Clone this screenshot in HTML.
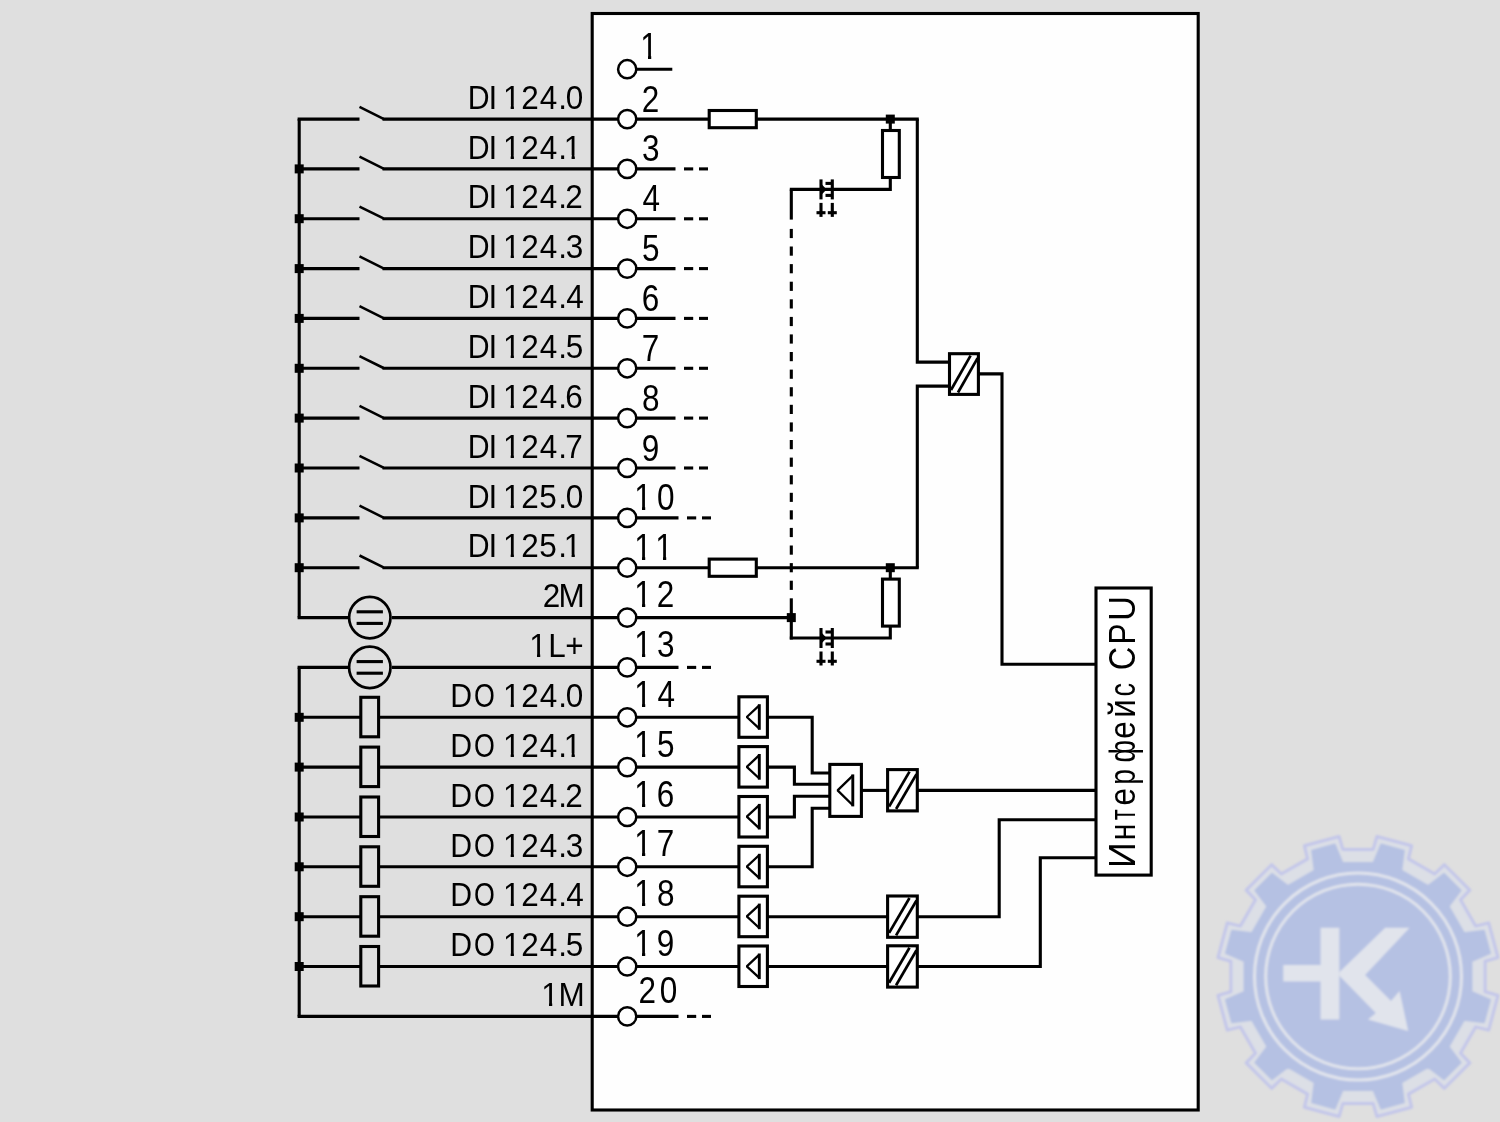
<!DOCTYPE html>
<html lang="ru"><head><meta charset="utf-8"><style>
html,body{margin:0;padding:0;background:#dfdfdf;}
svg{display:block;will-change:transform}
text{font-family:"Liberation Sans",sans-serif;fill:#000;stroke:none}
</style></head><body>
<svg width="1500" height="1122" viewBox="0 0 1500 1122">
<defs><clipPath id="c1" clipPathUnits="userSpaceOnUse"><path d="M-5,-40 H25 V-3.3 H10.95 V3 H7.7 V-3.3 H-5 Z"/></clipPath><filter id="gb" x="-5%" y="-5%" width="110%" height="110%"><feGaussianBlur stdDeviation="0.9"/></filter><filter id="lb" x="0" y="0" width="100%" height="100%" filterUnits="userSpaceOnUse"><feGaussianBlur stdDeviation="0.45"/></filter></defs>
<rect x="0" y="0" width="1500" height="1122" fill="#dfdfdf"/>
<g filter="url(#gb)"><path d="M1373.2,849.4 L1376.9,836.5 L1411.6,845.8 L1408.4,858.9 L1434.7,874.0 L1444.4,864.7 L1469.8,890.1 L1460.5,899.8 L1475.6,926.1 L1488.7,922.9 L1498.0,957.6 L1485.1,961.3 L1485.1,991.7 L1498.0,995.4 L1488.7,1030.1 L1475.6,1026.9 L1460.5,1053.2 L1469.8,1062.9 L1444.4,1088.3 L1434.7,1079.0 L1408.4,1094.1 L1411.6,1107.2 L1376.9,1116.5 L1373.2,1103.6 L1342.8,1103.6 L1339.1,1116.5 L1304.4,1107.2 L1307.6,1094.1 L1281.3,1079.0 L1271.6,1088.3 L1246.2,1062.9 L1255.5,1053.2 L1240.4,1026.9 L1227.3,1030.1 L1218.0,995.4 L1230.9,991.7 L1230.9,961.3 L1218.0,957.6 L1227.3,922.9 L1240.4,926.1 L1255.5,899.8 L1246.2,890.1 L1271.6,864.7 L1281.3,874.0 L1307.6,858.9 L1304.4,845.8 L1339.1,836.5 L1342.8,849.4Z" fill="#dcdfe6" stroke="#c3c6ea" stroke-width="3" stroke-linejoin="round"/><path d="M1373.5,863.1 L1381.3,844.5 L1403.8,850.6 L1401.3,870.5 L1428.2,886.0 L1444.1,873.9 L1460.6,890.4 L1448.5,906.3 L1464.0,933.2 L1483.9,930.7 L1490.0,953.2 L1471.4,961.0 L1471.4,992.0 L1490.0,999.8 L1483.9,1022.3 L1464.0,1019.8 L1448.5,1046.7 L1460.6,1062.6 L1444.1,1079.1 L1428.2,1067.0 L1401.3,1082.5 L1403.8,1102.4 L1381.3,1108.5 L1373.5,1089.9 L1342.5,1089.9 L1334.7,1108.5 L1312.2,1102.4 L1314.7,1082.5 L1287.8,1067.0 L1271.9,1079.1 L1255.4,1062.6 L1267.5,1046.7 L1252.0,1019.8 L1232.1,1022.3 L1226.0,999.8 L1244.6,992.0 L1244.6,961.0 L1226.0,953.2 L1232.1,930.7 L1252.0,933.2 L1267.5,906.3 L1255.4,890.4 L1271.9,873.9 L1287.8,886.0 L1314.7,870.5 L1312.2,850.6 L1334.7,844.5 L1342.5,863.1Z" fill="#b5c1e3" stroke="#b5c1e3" stroke-width="2" stroke-linejoin="round"/><circle cx="1358" cy="976.5" r="103.5" fill="none" stroke="#e1e4ec" stroke-width="3"/><circle cx="1358" cy="976.5" r="92.3" fill="none" stroke="#e1e4ec" stroke-width="3"/><path d="M1320.6,927.7 L1339.3,927.7 L1339.3,965.0 L1320.6,965.0Z M1283.3,965.0 L1339.3,965.0 L1339.3,981.4 L1283.3,981.4Z M1320.6,981.4 L1339.3,981.4 L1339.3,1019.6 L1320.6,1019.6Z" fill="#e1e4ec"/><path d="M1339.3,972.2 L1385.2,927.7 L1409.6,927.7 L1365.1,975.1 L1391.0,1000.9 L1399.6,990.9 L1408.2,1031.1 L1368.0,1019.6 L1375.8,1013.0 L1339.3,975.7Z" fill="#e1e4ec"/></g>
<g stroke="#000" stroke-width="3.1" stroke-linecap="butt" fill="none" filter="url(#lb)">
<rect x="592.2" y="13.5" width="606.0" height="1096.5" fill="#fefefe" />
<line x1="299.2" y1="119.1" x2="299.2" y2="617.6" />
<line x1="299.2" y1="667.4" x2="299.2" y2="1016.4" />
<line x1="297.6" y1="119.1" x2="359.5" y2="119.1" />
<line x1="359.5" y1="106.9" x2="383.5" y2="118.8" stroke-width="2.6"/>
<line x1="382.5" y1="119.1" x2="618.2" y2="119.1" />
<line x1="299.2" y1="168.9" x2="359.5" y2="168.9" />
<line x1="359.5" y1="156.7" x2="383.5" y2="168.6" stroke-width="2.6"/>
<line x1="382.5" y1="168.9" x2="618.2" y2="168.9" />
<rect x="294.7" y="164.4" width="9" height="9" fill="#000" stroke="none"/>
<line x1="299.2" y1="218.8" x2="359.5" y2="218.8" />
<line x1="359.5" y1="206.6" x2="383.5" y2="218.4" stroke-width="2.6"/>
<line x1="382.5" y1="218.8" x2="618.2" y2="218.8" />
<rect x="294.7" y="214.2" width="9" height="9" fill="#000" stroke="none"/>
<line x1="299.2" y1="268.6" x2="359.5" y2="268.6" />
<line x1="359.5" y1="256.4" x2="383.5" y2="268.3" stroke-width="2.6"/>
<line x1="382.5" y1="268.6" x2="618.2" y2="268.6" />
<rect x="294.7" y="264.1" width="9" height="9" fill="#000" stroke="none"/>
<line x1="299.2" y1="318.4" x2="359.5" y2="318.4" />
<line x1="359.5" y1="306.2" x2="383.5" y2="318.1" stroke-width="2.6"/>
<line x1="382.5" y1="318.4" x2="618.2" y2="318.4" />
<rect x="294.7" y="313.9" width="9" height="9" fill="#000" stroke="none"/>
<line x1="299.2" y1="368.3" x2="359.5" y2="368.3" />
<line x1="359.5" y1="356.1" x2="383.5" y2="368.0" stroke-width="2.6"/>
<line x1="382.5" y1="368.3" x2="618.2" y2="368.3" />
<rect x="294.7" y="363.8" width="9" height="9" fill="#000" stroke="none"/>
<line x1="299.2" y1="418.1" x2="359.5" y2="418.1" />
<line x1="359.5" y1="405.9" x2="383.5" y2="417.8" stroke-width="2.6"/>
<line x1="382.5" y1="418.1" x2="618.2" y2="418.1" />
<rect x="294.7" y="413.6" width="9" height="9" fill="#000" stroke="none"/>
<line x1="299.2" y1="468.0" x2="359.5" y2="468.0" />
<line x1="359.5" y1="455.8" x2="383.5" y2="467.7" stroke-width="2.6"/>
<line x1="382.5" y1="468.0" x2="618.2" y2="468.0" />
<rect x="294.7" y="463.5" width="9" height="9" fill="#000" stroke="none"/>
<line x1="299.2" y1="517.9" x2="359.5" y2="517.9" />
<line x1="359.5" y1="505.7" x2="383.5" y2="517.6" stroke-width="2.6"/>
<line x1="382.5" y1="517.9" x2="618.2" y2="517.9" />
<rect x="294.7" y="513.4" width="9" height="9" fill="#000" stroke="none"/>
<line x1="299.2" y1="567.7" x2="359.5" y2="567.7" />
<line x1="359.5" y1="555.5" x2="383.5" y2="567.4" stroke-width="2.6"/>
<line x1="382.5" y1="567.7" x2="618.2" y2="567.7" />
<rect x="294.7" y="563.2" width="9" height="9" fill="#000" stroke="none"/>
<line x1="297.6" y1="617.6" x2="348.0" y2="617.6" />
<line x1="392.0" y1="617.6" x2="618.2" y2="617.6" />
<line x1="297.6" y1="667.4" x2="348.0" y2="667.4" />
<line x1="392.0" y1="667.4" x2="618.2" y2="667.4" />
<circle cx="369.8" cy="617.6" r="20.7" fill="none" stroke-width="2.7"/>
<line x1="356.6" y1="611.8" x2="382.9" y2="611.8" />
<line x1="356.6" y1="623.4" x2="382.9" y2="623.4" />
<circle cx="369.8" cy="667.4" r="20.7" fill="none" stroke-width="2.7"/>
<line x1="356.6" y1="661.6" x2="382.9" y2="661.6" />
<line x1="356.6" y1="673.2" x2="382.9" y2="673.2" />
<line x1="299.2" y1="717.3" x2="618.2" y2="717.3" />
<rect x="294.7" y="712.8" width="9" height="9" fill="#000" stroke="none"/>
<rect x="360.8" y="697.3" width="17.8" height="39.5" fill="#dfdfdf" />
<line x1="299.2" y1="767.1" x2="618.2" y2="767.1" />
<rect x="294.7" y="762.6" width="9" height="9" fill="#000" stroke="none"/>
<rect x="360.8" y="747.1" width="17.8" height="39.5" fill="#dfdfdf" />
<line x1="299.2" y1="817.0" x2="618.2" y2="817.0" />
<rect x="294.7" y="812.5" width="9" height="9" fill="#000" stroke="none"/>
<rect x="360.8" y="797.0" width="17.8" height="39.5" fill="#dfdfdf" />
<line x1="299.2" y1="866.8" x2="618.2" y2="866.8" />
<rect x="294.7" y="862.3" width="9" height="9" fill="#000" stroke="none"/>
<rect x="360.8" y="846.8" width="17.8" height="39.5" fill="#dfdfdf" />
<line x1="299.2" y1="916.7" x2="618.2" y2="916.7" />
<rect x="294.7" y="912.2" width="9" height="9" fill="#000" stroke="none"/>
<rect x="360.8" y="896.7" width="17.8" height="39.5" fill="#dfdfdf" />
<line x1="299.2" y1="966.5" x2="618.2" y2="966.5" />
<rect x="294.7" y="962.0" width="9" height="9" fill="#000" stroke="none"/>
<rect x="360.8" y="946.5" width="17.8" height="39.5" fill="#dfdfdf" />
<line x1="297.6" y1="1016.4" x2="618.2" y2="1016.4" />
<circle cx="627.2" cy="69.2" r="9.1" fill="#fefefe" stroke-width="2.5"/>
<circle cx="627.2" cy="119.1" r="9.1" fill="#fefefe" stroke-width="2.5"/>
<circle cx="627.2" cy="168.9" r="9.1" fill="#fefefe" stroke-width="2.5"/>
<circle cx="627.2" cy="218.8" r="9.1" fill="#fefefe" stroke-width="2.5"/>
<circle cx="627.2" cy="268.6" r="9.1" fill="#fefefe" stroke-width="2.5"/>
<circle cx="627.2" cy="318.4" r="9.1" fill="#fefefe" stroke-width="2.5"/>
<circle cx="627.2" cy="368.3" r="9.1" fill="#fefefe" stroke-width="2.5"/>
<circle cx="627.2" cy="418.1" r="9.1" fill="#fefefe" stroke-width="2.5"/>
<circle cx="627.2" cy="468.0" r="9.1" fill="#fefefe" stroke-width="2.5"/>
<circle cx="627.2" cy="517.9" r="9.1" fill="#fefefe" stroke-width="2.5"/>
<circle cx="627.2" cy="567.7" r="9.1" fill="#fefefe" stroke-width="2.5"/>
<circle cx="627.2" cy="617.6" r="9.1" fill="#fefefe" stroke-width="2.5"/>
<circle cx="627.2" cy="667.4" r="9.1" fill="#fefefe" stroke-width="2.5"/>
<circle cx="627.2" cy="717.3" r="9.1" fill="#fefefe" stroke-width="2.5"/>
<circle cx="627.2" cy="767.1" r="9.1" fill="#fefefe" stroke-width="2.5"/>
<circle cx="627.2" cy="817.0" r="9.1" fill="#fefefe" stroke-width="2.5"/>
<circle cx="627.2" cy="866.8" r="9.1" fill="#fefefe" stroke-width="2.5"/>
<circle cx="627.2" cy="916.7" r="9.1" fill="#fefefe" stroke-width="2.5"/>
<circle cx="627.2" cy="966.5" r="9.1" fill="#fefefe" stroke-width="2.5"/>
<circle cx="627.2" cy="1016.4" r="9.1" fill="#fefefe" stroke-width="2.5"/>
<line x1="636.2" y1="69.2" x2="672.3" y2="69.2" />
<line x1="636.2" y1="168.9" x2="675.5" y2="168.9" />
<line x1="684.0" y1="168.9" x2="693.2" y2="168.9" />
<line x1="699.0" y1="168.9" x2="708.0" y2="168.9" />
<line x1="636.2" y1="218.8" x2="675.5" y2="218.8" />
<line x1="684.0" y1="218.8" x2="693.2" y2="218.8" />
<line x1="699.0" y1="218.8" x2="708.0" y2="218.8" />
<line x1="636.2" y1="268.6" x2="675.5" y2="268.6" />
<line x1="684.0" y1="268.6" x2="693.2" y2="268.6" />
<line x1="699.0" y1="268.6" x2="708.0" y2="268.6" />
<line x1="636.2" y1="318.4" x2="675.5" y2="318.4" />
<line x1="684.0" y1="318.4" x2="693.2" y2="318.4" />
<line x1="699.0" y1="318.4" x2="708.0" y2="318.4" />
<line x1="636.2" y1="368.3" x2="675.5" y2="368.3" />
<line x1="684.0" y1="368.3" x2="693.2" y2="368.3" />
<line x1="699.0" y1="368.3" x2="708.0" y2="368.3" />
<line x1="636.2" y1="418.1" x2="675.5" y2="418.1" />
<line x1="684.0" y1="418.1" x2="693.2" y2="418.1" />
<line x1="699.0" y1="418.1" x2="708.0" y2="418.1" />
<line x1="636.2" y1="468.0" x2="675.5" y2="468.0" />
<line x1="684.0" y1="468.0" x2="693.2" y2="468.0" />
<line x1="699.0" y1="468.0" x2="708.0" y2="468.0" />
<line x1="636.2" y1="517.9" x2="678.5" y2="517.9" />
<line x1="687.0" y1="517.9" x2="696.2" y2="517.9" />
<line x1="702.0" y1="517.9" x2="711.0" y2="517.9" />
<line x1="636.2" y1="667.4" x2="678.5" y2="667.4" />
<line x1="687.0" y1="667.4" x2="696.2" y2="667.4" />
<line x1="702.0" y1="667.4" x2="711.0" y2="667.4" />
<line x1="636.2" y1="1016.4" x2="678.5" y2="1016.4" />
<line x1="687.0" y1="1016.4" x2="696.2" y2="1016.4" />
<line x1="702.0" y1="1016.4" x2="711.0" y2="1016.4" />
<line x1="636.2" y1="119.1" x2="709.0" y2="119.1" />
<rect x="709.2" y="110.5" width="47.1" height="17.2" fill="#fff" />
<line x1="756.3" y1="119.1" x2="918.8" y2="119.1" />
<rect x="885.8" y="114.6" width="9" height="9" fill="#000" stroke="none"/>
<line x1="890.3" y1="119.1" x2="890.3" y2="133.1" />
<rect x="882.5" y="130.5" width="16.8" height="47.0" fill="#fff" />
<polyline points="890.3,177.5 890.3,189.4 789.8,189.4" fill="none"/>
<line x1="821.0" y1="179.4" x2="821.0" y2="199.4" />
<line x1="832.3" y1="179.4" x2="832.3" y2="199.4" />
<polygon points="820.5,183.0 826.6,189.4 820.5,195.8" fill="#000" stroke="none"/>
<line x1="825.5" y1="183.4" x2="832.3" y2="183.4" />
<line x1="825.5" y1="195.4" x2="832.3" y2="195.4" />
<line x1="821.0" y1="202.9" x2="821.0" y2="216.9" />
<line x1="816.5" y1="212.7" x2="825.5" y2="212.7" />
<line x1="832.3" y1="202.9" x2="832.3" y2="216.9" />
<line x1="827.8" y1="212.7" x2="836.8" y2="212.7" />
<line x1="636.2" y1="567.7" x2="709.0" y2="567.7" />
<rect x="709.2" y="559.1" width="47.1" height="17.2" fill="#fff" />
<line x1="756.3" y1="567.7" x2="918.8" y2="567.7" />
<rect x="885.8" y="563.2" width="9" height="9" fill="#000" stroke="none"/>
<line x1="890.3" y1="567.7" x2="890.3" y2="581.7" />
<rect x="882.5" y="579.1" width="16.8" height="47.0" fill="#fff" />
<polyline points="890.3,626.1 890.3,638.0 789.8,638.0" fill="none"/>
<line x1="821.0" y1="628.0" x2="821.0" y2="648.0" />
<line x1="832.3" y1="628.0" x2="832.3" y2="648.0" />
<polygon points="820.5,631.6 826.6,638.0 820.5,644.4" fill="#000" stroke="none"/>
<line x1="825.5" y1="632.0" x2="832.3" y2="632.0" />
<line x1="825.5" y1="644.0" x2="832.3" y2="644.0" />
<line x1="821.0" y1="651.5" x2="821.0" y2="665.5" />
<line x1="816.5" y1="661.3" x2="825.5" y2="661.3" />
<line x1="832.3" y1="651.5" x2="832.3" y2="665.5" />
<line x1="827.8" y1="661.3" x2="836.8" y2="661.3" />
<polyline points="917.3,119.1 917.3,362.1 948.0,362.1" fill="none"/>
<polyline points="917.3,567.7 917.3,386.1 948.0,386.1" fill="none"/>
<line x1="791.3" y1="189.4" x2="791.3" y2="219.6" />
<line x1="791.3" y1="228.9" x2="791.3" y2="238.1" />
<line x1="791.3" y1="246.5" x2="791.3" y2="255.7" />
<line x1="791.3" y1="264.1" x2="791.3" y2="273.3" />
<line x1="791.3" y1="281.7" x2="791.3" y2="290.9" />
<line x1="791.3" y1="299.3" x2="791.3" y2="308.5" />
<line x1="791.3" y1="316.9" x2="791.3" y2="326.1" />
<line x1="791.3" y1="334.4" x2="791.3" y2="343.6" />
<line x1="791.3" y1="352.0" x2="791.3" y2="361.2" />
<line x1="791.3" y1="369.6" x2="791.3" y2="378.8" />
<line x1="791.3" y1="387.2" x2="791.3" y2="396.4" />
<line x1="791.3" y1="404.8" x2="791.3" y2="414.0" />
<line x1="791.3" y1="422.4" x2="791.3" y2="431.6" />
<line x1="791.3" y1="440.0" x2="791.3" y2="449.2" />
<line x1="791.3" y1="457.6" x2="791.3" y2="466.8" />
<line x1="791.3" y1="475.2" x2="791.3" y2="484.4" />
<line x1="791.3" y1="492.8" x2="791.3" y2="501.9" />
<line x1="791.3" y1="510.3" x2="791.3" y2="519.5" />
<line x1="791.3" y1="527.9" x2="791.3" y2="537.1" />
<line x1="791.3" y1="545.5" x2="791.3" y2="554.7" />
<line x1="791.3" y1="563.1" x2="791.3" y2="572.3" />
<line x1="791.3" y1="580.7" x2="791.3" y2="589.9" />
<line x1="791.3" y1="598.3" x2="791.3" y2="617.6" />
<rect x="786.8" y="613.1" width="9" height="9" fill="#000" stroke="none"/>
<line x1="636.2" y1="617.6" x2="791.3" y2="617.6" />
<line x1="791.3" y1="617.6" x2="791.3" y2="639.5" />
<rect x="949.5" y="353.7" width="28.9" height="40.7" fill="#fff" />
<line x1="951.0" y1="390.0" x2="970.6" y2="355.7" stroke-width="2.7"/>
<line x1="958.0" y1="392.5" x2="977.6" y2="358.2" stroke-width="2.7"/>
<polyline points="978.4,373.9 1002.0,373.9 1002.0,664.3 1095.5,664.3" fill="none"/>
<rect x="1096.0" y="588.0" width="55.2" height="287.1" fill="#fff" />
<line x1="636.2" y1="717.3" x2="738.0" y2="717.3" />
<rect x="738.9" y="696.8" width="28.5" height="40.5" fill="#fff" />
<polyline points="759.3,705.4 746.8,717.0 759.3,728.6" fill="none" stroke-width="2.3" stroke-linejoin="bevel"/>
<line x1="759.3" y1="704.2" x2="759.3" y2="729.8" stroke-width="2.9"/>
<line x1="636.2" y1="767.1" x2="738.0" y2="767.1" />
<rect x="738.9" y="746.6" width="28.5" height="40.5" fill="#fff" />
<polyline points="759.3,755.2 746.8,766.9 759.3,778.5" fill="none" stroke-width="2.3" stroke-linejoin="bevel"/>
<line x1="759.3" y1="754.0" x2="759.3" y2="779.7" stroke-width="2.9"/>
<line x1="636.2" y1="817.0" x2="738.0" y2="817.0" />
<rect x="738.9" y="796.5" width="28.5" height="40.5" fill="#fff" />
<polyline points="759.3,805.1 746.8,816.7 759.3,828.3" fill="none" stroke-width="2.3" stroke-linejoin="bevel"/>
<line x1="759.3" y1="803.9" x2="759.3" y2="829.5" stroke-width="2.9"/>
<line x1="636.2" y1="866.8" x2="738.0" y2="866.8" />
<rect x="738.9" y="846.3" width="28.5" height="40.5" fill="#fff" />
<polyline points="759.3,855.0 746.8,866.6 759.3,878.2" fill="none" stroke-width="2.3" stroke-linejoin="bevel"/>
<line x1="759.3" y1="853.8" x2="759.3" y2="879.4" stroke-width="2.9"/>
<line x1="636.2" y1="916.7" x2="738.0" y2="916.7" />
<rect x="738.9" y="896.2" width="28.5" height="40.5" fill="#fff" />
<polyline points="759.3,904.8 746.8,916.4 759.3,928.0" fill="none" stroke-width="2.3" stroke-linejoin="bevel"/>
<line x1="759.3" y1="903.6" x2="759.3" y2="929.2" stroke-width="2.9"/>
<line x1="636.2" y1="966.5" x2="738.0" y2="966.5" />
<rect x="738.9" y="946.0" width="28.5" height="40.5" fill="#fff" />
<polyline points="759.3,954.7 746.8,966.3 759.3,977.9" fill="none" stroke-width="2.3" stroke-linejoin="bevel"/>
<line x1="759.3" y1="953.5" x2="759.3" y2="979.1" stroke-width="2.9"/>
<rect x="829.8" y="764.4" width="31.6" height="52.0" fill="#fff" />
<polyline points="852.8,775.6 837.6,790.4 852.8,805.2" fill="none" stroke-width="2.3" stroke-linejoin="bevel"/>
<line x1="852.8" y1="774.4" x2="852.8" y2="806.4" stroke-width="2.9"/>
<polyline points="767.6,717.3 812.2,717.3 812.2,773.0 829.0,773.0" fill="none"/>
<polyline points="767.6,767.1 794.4,767.1 794.4,784.3 829.0,784.3" fill="none"/>
<polyline points="767.6,817.0 794.4,817.0 794.4,796.3 829.0,796.3" fill="none"/>
<polyline points="767.6,866.8 812.2,866.8 812.2,808.2 829.0,808.2" fill="none"/>
<line x1="861.3" y1="790.4" x2="888.0" y2="790.4" />
<rect x="887.6" y="769.6" width="29.7" height="41.3" fill="#fff" />
<line x1="889.1" y1="806.5" x2="909.5" y2="771.6" stroke-width="2.7"/>
<line x1="896.1" y1="809.0" x2="916.5" y2="774.1" stroke-width="2.7"/>
<line x1="917.3" y1="790.4" x2="1096.0" y2="790.4" />
<line x1="767.6" y1="916.7" x2="888.0" y2="916.7" />
<rect x="887.6" y="896.0" width="29.7" height="41.3" fill="#fff" />
<line x1="889.1" y1="932.9" x2="909.5" y2="898.0" stroke-width="2.7"/>
<line x1="896.1" y1="935.4" x2="916.5" y2="900.5" stroke-width="2.7"/>
<polyline points="917.3,916.7 999.2,916.7 999.2,819.8 1096.0,819.8" fill="none"/>
<line x1="767.6" y1="966.5" x2="888.0" y2="966.5" />
<rect x="887.6" y="945.8" width="29.7" height="41.3" fill="#fff" />
<line x1="889.1" y1="982.7" x2="909.5" y2="947.8" stroke-width="2.7"/>
<line x1="896.1" y1="985.2" x2="916.5" y2="950.3" stroke-width="2.7"/>
<polyline points="917.3,966.5 1040.3,966.5 1040.3,857.7 1096.0,857.7" fill="none"/>
</g>
<g><text transform="translate(467.82,108.75) scale(0.96,1.06)" font-size="31.5">D</text>
<text transform="translate(488.39,108.75) scale(1,1.06)" font-size="31.5">I</text>
<g transform="translate(502.97,108.75) scale(1,1.06)" clip-path="url(#c1)"><text font-size="31.5">1</text></g>
<text transform="translate(521.32,108.75) scale(1,1.06)" font-size="31.5">2</text>
<text transform="translate(539.68,108.75) scale(1,1.06)" font-size="31.5">4</text>
<text transform="translate(558.32,108.75) scale(1,1.06)" font-size="31.5">.</text>
<text transform="translate(565.67,108.75) scale(1,1.06)" font-size="31.5">0</text>
<text transform="translate(467.82,158.60) scale(0.96,1.06)" font-size="31.5">D</text>
<text transform="translate(488.39,158.60) scale(1,1.06)" font-size="31.5">I</text>
<g transform="translate(502.97,158.60) scale(1,1.06)" clip-path="url(#c1)"><text font-size="31.5">1</text></g>
<text transform="translate(521.32,158.60) scale(1,1.06)" font-size="31.5">2</text>
<text transform="translate(539.68,158.60) scale(1,1.06)" font-size="31.5">4</text>
<text transform="translate(558.32,158.60) scale(1,1.06)" font-size="31.5">.</text>
<g transform="translate(563.87,158.60) scale(1,1.06)" clip-path="url(#c1)"><text font-size="31.5">1</text></g>
<text transform="translate(467.82,208.45) scale(0.96,1.06)" font-size="31.5">D</text>
<text transform="translate(488.39,208.45) scale(1,1.06)" font-size="31.5">I</text>
<g transform="translate(502.97,208.45) scale(1,1.06)" clip-path="url(#c1)"><text font-size="31.5">1</text></g>
<text transform="translate(521.32,208.45) scale(1,1.06)" font-size="31.5">2</text>
<text transform="translate(539.68,208.45) scale(1,1.06)" font-size="31.5">4</text>
<text transform="translate(558.32,208.45) scale(1,1.06)" font-size="31.5">.</text>
<text transform="translate(565.32,208.45) scale(1,1.06)" font-size="31.5">2</text>
<text transform="translate(467.82,258.30) scale(0.96,1.06)" font-size="31.5">D</text>
<text transform="translate(488.39,258.30) scale(1,1.06)" font-size="31.5">I</text>
<g transform="translate(502.97,258.30) scale(1,1.06)" clip-path="url(#c1)"><text font-size="31.5">1</text></g>
<text transform="translate(521.32,258.30) scale(1,1.06)" font-size="31.5">2</text>
<text transform="translate(539.68,258.30) scale(1,1.06)" font-size="31.5">4</text>
<text transform="translate(558.32,258.30) scale(1,1.06)" font-size="31.5">.</text>
<text transform="translate(565.70,258.30) scale(1,1.06)" font-size="31.5">3</text>
<text transform="translate(467.82,308.15) scale(0.96,1.06)" font-size="31.5">D</text>
<text transform="translate(488.39,308.15) scale(1,1.06)" font-size="31.5">I</text>
<g transform="translate(502.97,308.15) scale(1,1.06)" clip-path="url(#c1)"><text font-size="31.5">1</text></g>
<text transform="translate(521.32,308.15) scale(1,1.06)" font-size="31.5">2</text>
<text transform="translate(539.68,308.15) scale(1,1.06)" font-size="31.5">4</text>
<text transform="translate(558.32,308.15) scale(1,1.06)" font-size="31.5">.</text>
<text transform="translate(566.18,308.15) scale(1,1.06)" font-size="31.5">4</text>
<text transform="translate(467.82,358.00) scale(0.96,1.06)" font-size="31.5">D</text>
<text transform="translate(488.39,358.00) scale(1,1.06)" font-size="31.5">I</text>
<g transform="translate(502.97,358.00) scale(1,1.06)" clip-path="url(#c1)"><text font-size="31.5">1</text></g>
<text transform="translate(521.32,358.00) scale(1,1.06)" font-size="31.5">2</text>
<text transform="translate(539.68,358.00) scale(1,1.06)" font-size="31.5">4</text>
<text transform="translate(558.32,358.00) scale(1,1.06)" font-size="31.5">.</text>
<text transform="translate(565.64,358.00) scale(1,1.06)" font-size="31.5">5</text>
<text transform="translate(467.82,407.85) scale(0.96,1.06)" font-size="31.5">D</text>
<text transform="translate(488.39,407.85) scale(1,1.06)" font-size="31.5">I</text>
<g transform="translate(502.97,407.85) scale(1,1.06)" clip-path="url(#c1)"><text font-size="31.5">1</text></g>
<text transform="translate(521.32,407.85) scale(1,1.06)" font-size="31.5">2</text>
<text transform="translate(539.68,407.85) scale(1,1.06)" font-size="31.5">4</text>
<text transform="translate(558.32,407.85) scale(1,1.06)" font-size="31.5">.</text>
<text transform="translate(565.30,407.85) scale(1,1.06)" font-size="31.5">6</text>
<text transform="translate(467.82,457.70) scale(0.96,1.06)" font-size="31.5">D</text>
<text transform="translate(488.39,457.70) scale(1,1.06)" font-size="31.5">I</text>
<g transform="translate(502.97,457.70) scale(1,1.06)" clip-path="url(#c1)"><text font-size="31.5">1</text></g>
<text transform="translate(521.32,457.70) scale(1,1.06)" font-size="31.5">2</text>
<text transform="translate(539.68,457.70) scale(1,1.06)" font-size="31.5">4</text>
<text transform="translate(558.32,457.70) scale(1,1.06)" font-size="31.5">.</text>
<text transform="translate(565.29,457.70) scale(1,1.06)" font-size="31.5">7</text>
<text transform="translate(467.82,507.55) scale(0.96,1.06)" font-size="31.5">D</text>
<text transform="translate(488.39,507.55) scale(1,1.06)" font-size="31.5">I</text>
<g transform="translate(502.97,507.55) scale(1,1.06)" clip-path="url(#c1)"><text font-size="31.5">1</text></g>
<text transform="translate(521.32,507.55) scale(1,1.06)" font-size="31.5">2</text>
<text transform="translate(539.14,507.55) scale(1,1.06)" font-size="31.5">5</text>
<text transform="translate(558.32,507.55) scale(1,1.06)" font-size="31.5">.</text>
<text transform="translate(565.67,507.55) scale(1,1.06)" font-size="31.5">0</text>
<text transform="translate(467.82,557.40) scale(0.96,1.06)" font-size="31.5">D</text>
<text transform="translate(488.39,557.40) scale(1,1.06)" font-size="31.5">I</text>
<g transform="translate(502.97,557.40) scale(1,1.06)" clip-path="url(#c1)"><text font-size="31.5">1</text></g>
<text transform="translate(521.32,557.40) scale(1,1.06)" font-size="31.5">2</text>
<text transform="translate(539.14,557.40) scale(1,1.06)" font-size="31.5">5</text>
<text transform="translate(558.32,557.40) scale(1,1.06)" font-size="31.5">.</text>
<g transform="translate(563.87,557.40) scale(1,1.06)" clip-path="url(#c1)"><text font-size="31.5">1</text></g>
<text transform="translate(542.72,607.25) scale(1,1.06)" font-size="31.5">2</text>
<text transform="translate(558.62,607.25) scale(1,1.06)" font-size="31.5">M</text>
<g transform="translate(529.27,657.10) scale(1,1.06)" clip-path="url(#c1)"><text font-size="31.5">1</text></g>
<text transform="translate(548.32,657.10) scale(1,1.06)" font-size="31.5">L</text>
<text transform="translate(565.36,657.10) scale(1,1.06)" font-size="31.5">&#43;</text>
<text transform="translate(450.32,706.95) scale(0.96,1.06)" font-size="31.5">D</text>
<text transform="translate(474.03,706.95) scale(0.85,1.06)" font-size="31.5">O</text>
<g transform="translate(502.97,706.95) scale(1,1.06)" clip-path="url(#c1)"><text font-size="31.5">1</text></g>
<text transform="translate(521.32,706.95) scale(1,1.06)" font-size="31.5">2</text>
<text transform="translate(539.68,706.95) scale(1,1.06)" font-size="31.5">4</text>
<text transform="translate(558.32,706.95) scale(1,1.06)" font-size="31.5">.</text>
<text transform="translate(565.67,706.95) scale(1,1.06)" font-size="31.5">0</text>
<text transform="translate(450.32,756.80) scale(0.96,1.06)" font-size="31.5">D</text>
<text transform="translate(474.03,756.80) scale(0.85,1.06)" font-size="31.5">O</text>
<g transform="translate(502.97,756.80) scale(1,1.06)" clip-path="url(#c1)"><text font-size="31.5">1</text></g>
<text transform="translate(521.32,756.80) scale(1,1.06)" font-size="31.5">2</text>
<text transform="translate(539.68,756.80) scale(1,1.06)" font-size="31.5">4</text>
<text transform="translate(558.32,756.80) scale(1,1.06)" font-size="31.5">.</text>
<g transform="translate(563.87,756.80) scale(1,1.06)" clip-path="url(#c1)"><text font-size="31.5">1</text></g>
<text transform="translate(450.32,806.65) scale(0.96,1.06)" font-size="31.5">D</text>
<text transform="translate(474.03,806.65) scale(0.85,1.06)" font-size="31.5">O</text>
<g transform="translate(502.97,806.65) scale(1,1.06)" clip-path="url(#c1)"><text font-size="31.5">1</text></g>
<text transform="translate(521.32,806.65) scale(1,1.06)" font-size="31.5">2</text>
<text transform="translate(539.68,806.65) scale(1,1.06)" font-size="31.5">4</text>
<text transform="translate(558.32,806.65) scale(1,1.06)" font-size="31.5">.</text>
<text transform="translate(565.32,806.65) scale(1,1.06)" font-size="31.5">2</text>
<text transform="translate(450.32,856.50) scale(0.96,1.06)" font-size="31.5">D</text>
<text transform="translate(474.03,856.50) scale(0.85,1.06)" font-size="31.5">O</text>
<g transform="translate(502.97,856.50) scale(1,1.06)" clip-path="url(#c1)"><text font-size="31.5">1</text></g>
<text transform="translate(521.32,856.50) scale(1,1.06)" font-size="31.5">2</text>
<text transform="translate(539.68,856.50) scale(1,1.06)" font-size="31.5">4</text>
<text transform="translate(558.32,856.50) scale(1,1.06)" font-size="31.5">.</text>
<text transform="translate(565.70,856.50) scale(1,1.06)" font-size="31.5">3</text>
<text transform="translate(450.32,906.35) scale(0.96,1.06)" font-size="31.5">D</text>
<text transform="translate(474.03,906.35) scale(0.85,1.06)" font-size="31.5">O</text>
<g transform="translate(502.97,906.35) scale(1,1.06)" clip-path="url(#c1)"><text font-size="31.5">1</text></g>
<text transform="translate(521.32,906.35) scale(1,1.06)" font-size="31.5">2</text>
<text transform="translate(539.68,906.35) scale(1,1.06)" font-size="31.5">4</text>
<text transform="translate(558.32,906.35) scale(1,1.06)" font-size="31.5">.</text>
<text transform="translate(566.18,906.35) scale(1,1.06)" font-size="31.5">4</text>
<text transform="translate(450.32,956.20) scale(0.96,1.06)" font-size="31.5">D</text>
<text transform="translate(474.03,956.20) scale(0.85,1.06)" font-size="31.5">O</text>
<g transform="translate(502.97,956.20) scale(1,1.06)" clip-path="url(#c1)"><text font-size="31.5">1</text></g>
<text transform="translate(521.32,956.20) scale(1,1.06)" font-size="31.5">2</text>
<text transform="translate(539.68,956.20) scale(1,1.06)" font-size="31.5">4</text>
<text transform="translate(558.32,956.20) scale(1,1.06)" font-size="31.5">.</text>
<text transform="translate(565.64,956.20) scale(1,1.06)" font-size="31.5">5</text>
<g transform="translate(541.27,1006.05) scale(1,1.06)" clip-path="url(#c1)"><text font-size="31.5">1</text></g>
<text transform="translate(558.62,1006.05) scale(1,1.06)" font-size="31.5">M</text>
<g transform="translate(640.27,59.00) scale(1,1.18)" clip-path="url(#c1)"><text font-size="31.5">1</text></g>
<text transform="translate(641.72,111.55) scale(1,1.18)" font-size="31.5">2</text>
<text transform="translate(642.10,161.40) scale(1,1.18)" font-size="31.5">3</text>
<text transform="translate(642.58,211.25) scale(1,1.18)" font-size="31.5">4</text>
<text transform="translate(642.04,261.10) scale(1,1.18)" font-size="31.5">5</text>
<text transform="translate(641.70,310.95) scale(1,1.18)" font-size="31.5">6</text>
<text transform="translate(641.69,360.80) scale(1,1.18)" font-size="31.5">7</text>
<text transform="translate(641.93,410.65) scale(1,1.18)" font-size="31.5">8</text>
<text transform="translate(641.82,460.50) scale(1,1.18)" font-size="31.5">9</text>
<g transform="translate(634.27,510.35) scale(1,1.18)" clip-path="url(#c1)"><text font-size="31.5">1</text></g>
<text transform="translate(657.07,510.35) scale(1,1.18)" font-size="31.5">0</text>
<g transform="translate(634.27,560.20) scale(1,1.18)" clip-path="url(#c1)"><text font-size="31.5">1</text></g>
<g transform="translate(655.27,560.20) scale(1,1.18)" clip-path="url(#c1)"><text font-size="31.5">1</text></g>
<g transform="translate(634.27,607.15) scale(1,1.18)" clip-path="url(#c1)"><text font-size="31.5">1</text></g>
<text transform="translate(656.72,607.15) scale(1,1.18)" font-size="31.5">2</text>
<g transform="translate(634.27,657.00) scale(1,1.18)" clip-path="url(#c1)"><text font-size="31.5">1</text></g>
<text transform="translate(657.10,657.00) scale(1,1.18)" font-size="31.5">3</text>
<g transform="translate(634.27,706.85) scale(1,1.18)" clip-path="url(#c1)"><text font-size="31.5">1</text></g>
<text transform="translate(657.58,706.85) scale(1,1.18)" font-size="31.5">4</text>
<g transform="translate(634.27,756.70) scale(1,1.18)" clip-path="url(#c1)"><text font-size="31.5">1</text></g>
<text transform="translate(657.04,756.70) scale(1,1.18)" font-size="31.5">5</text>
<g transform="translate(634.27,806.55) scale(1,1.18)" clip-path="url(#c1)"><text font-size="31.5">1</text></g>
<text transform="translate(656.70,806.55) scale(1,1.18)" font-size="31.5">6</text>
<g transform="translate(634.27,856.40) scale(1,1.18)" clip-path="url(#c1)"><text font-size="31.5">1</text></g>
<text transform="translate(656.69,856.40) scale(1,1.18)" font-size="31.5">7</text>
<g transform="translate(634.27,906.25) scale(1,1.18)" clip-path="url(#c1)"><text font-size="31.5">1</text></g>
<text transform="translate(656.93,906.25) scale(1,1.18)" font-size="31.5">8</text>
<g transform="translate(634.27,956.10) scale(1,1.18)" clip-path="url(#c1)"><text font-size="31.5">1</text></g>
<text transform="translate(656.82,956.10) scale(1,1.18)" font-size="31.5">9</text>
<text transform="translate(638.62,1002.75) scale(1,1.18)" font-size="31.5">2</text>
<text transform="translate(659.87,1002.75) scale(1,1.18)" font-size="31.5">0</text>
<text transform="translate(1135.3,868.02) rotate(-90) scale(1.13,1.2)" font-size="31.5">И</text>
<text transform="translate(1135.3,840.20) rotate(-90) scale(0.96,1.2)" font-size="31.5">н</text>
<text transform="translate(1135.3,820.31) rotate(-90) scale(0.76,1.2)" font-size="31.5">т</text>
<text transform="translate(1135.3,805.54) rotate(-90) scale(1.0,1.2)" font-size="31.5">е</text>
<text transform="translate(1135.3,784.63) rotate(-90) scale(0.9,1.2)" font-size="31.5">р</text>
<text transform="translate(1135.3,762.55) rotate(-90) scale(0.87,1.2)" font-size="31.5">ф</text>
<text transform="translate(1135.3,738.84) rotate(-90) scale(1.0,1.2)" font-size="31.5">е</text>
<text transform="translate(1135.3,717.69) rotate(-90) scale(1.05,1.2)" font-size="31.5">й</text>
<text transform="translate(1135.3,696.55) rotate(-90) scale(0.86,1.2)" font-size="31.5">с</text>
<text transform="translate(1135.3,670.25) rotate(-90) scale(1.03,1.2)" font-size="31.5">C</text>
<text transform="translate(1135.3,644.48) rotate(-90) scale(1.0,1.2)" font-size="31.5">P</text>
<text transform="translate(1135.3,621.07) rotate(-90) scale(1.1,1.2)" font-size="31.5">U</text></g>
</svg></body></html>
